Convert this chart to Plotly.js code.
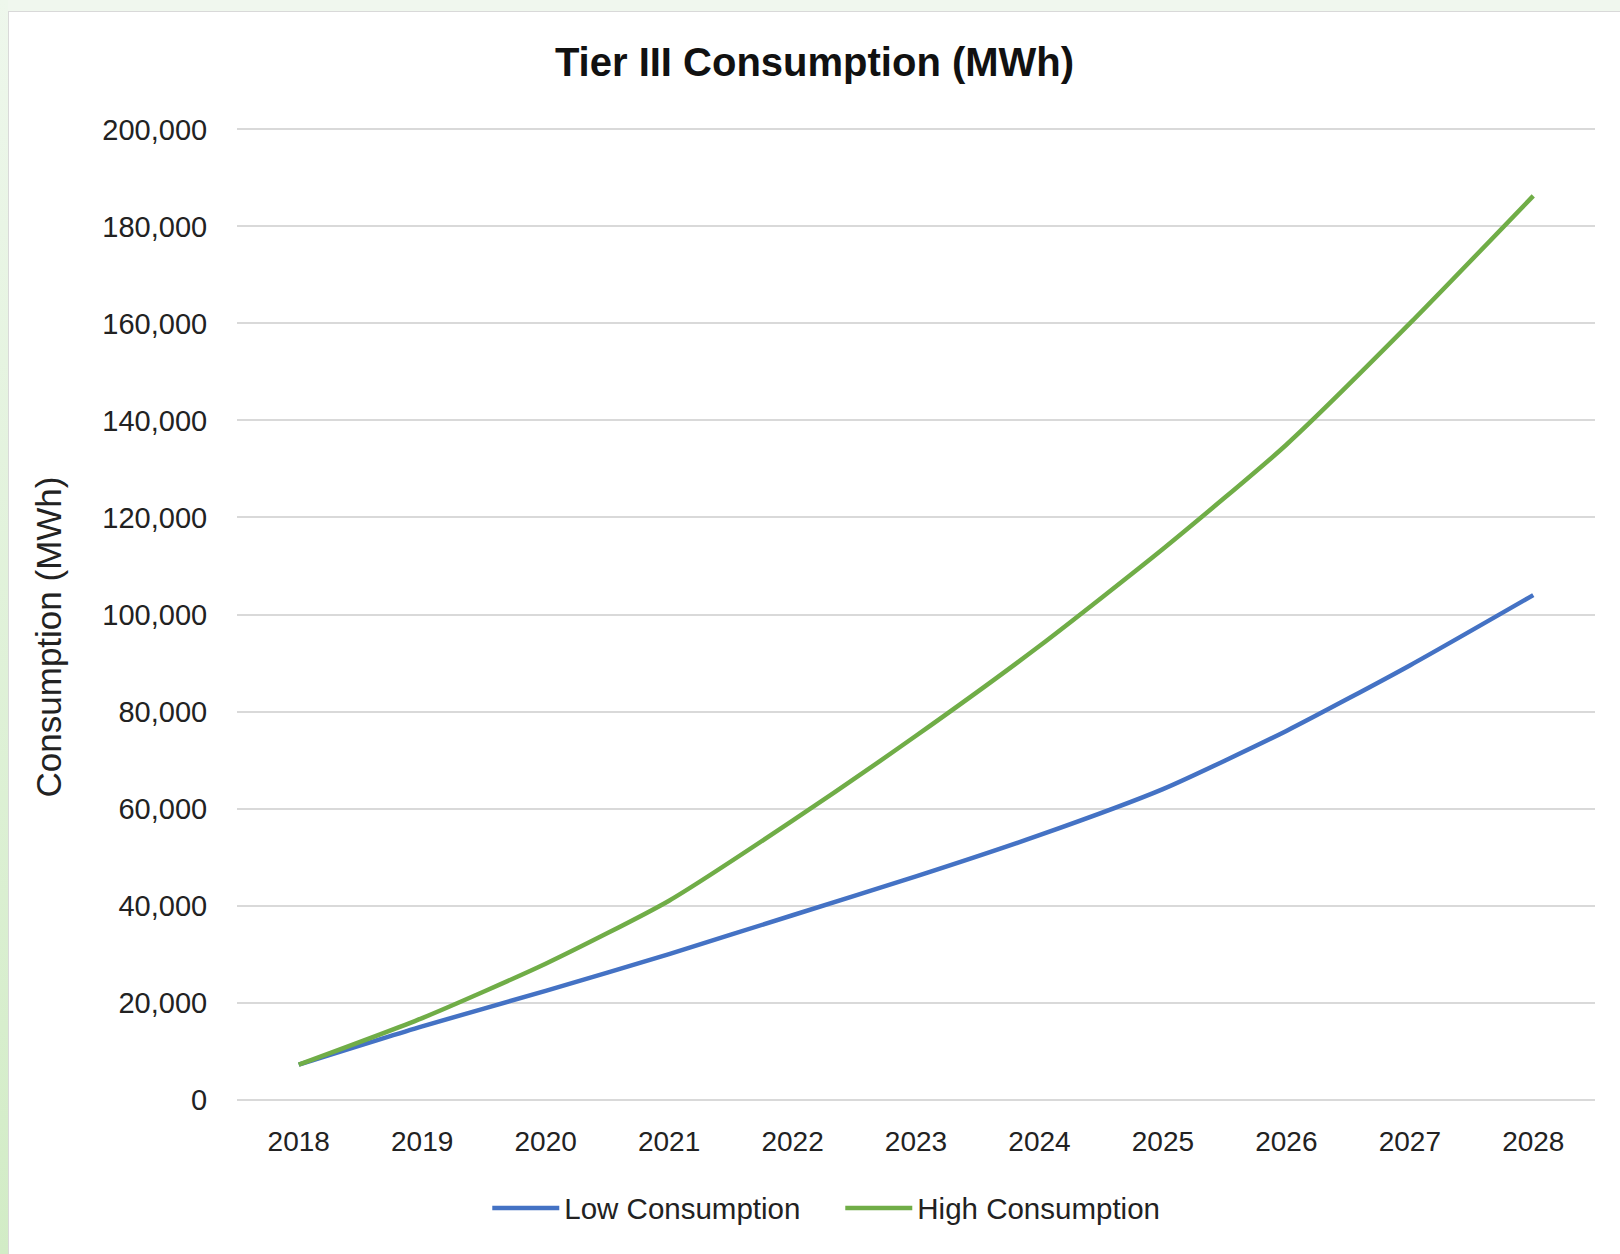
<!DOCTYPE html>
<html>
<head>
<meta charset="utf-8">
<script src="https://cdn.plot.ly/plotly-3.0.1.min.js"></script>
<style>
  html, body { margin: 0; padding: 0; width: 1620px; height: 1254px; overflow: hidden;
    background: #f0f7ee; }
  #leftstrip { position: absolute; left: 0; top: 0; width: 8px; height: 1254px;
    background: linear-gradient(#eef7ec, #d2ecc6); }
  #frame { position: absolute; left: 8px; top: 11px; width: 1612px; height: 1243px;
    background: #ffffff; border-left: 1px solid #d9d9d9; border-top: 1px solid #d9d9d9; box-sizing: border-box; }
  #chart { width: 1611px; height: 1242px; }
</style>
</head>
<body>
<div id="leftstrip"></div>
<div id="frame"><div id="chart"></div></div>
<script>
const years = ['2018','2019','2020','2021','2022','2023','2024','2025','2026','2027','2028'];
const lowConsumption  = [7200, 15100, 22400, 30000, 38000, 46000, 54500, 64000, 76000, 89500, 104000];
const highConsumption = [7200, 16800, 28000, 41000, 57500, 75000, 93500, 113500, 135000, 160000, 186300];
const yTicks = [0, 20000, 40000, 60000, 80000, 100000, 120000, 140000, 160000, 180000, 200000];
const yTickText = ['0','20,000','40,000','60,000','80,000','100,000','120,000','140,000','160,000','180,000','200,000'];

const FONT = 'Liberation Sans, Arial, sans-serif';

const traces = [
  { x: years, y: lowConsumption, type: 'scatter', mode: 'lines', name: 'Low Consumption',
    line: { color: '#4472C4', width: 4.5, shape: 'spline', smoothing: 0.6 } },
  { x: years, y: highConsumption, type: 'scatter', mode: 'lines', name: 'High Consumption',
    line: { color: '#70AD47', width: 4.5, shape: 'spline', smoothing: 0.6 } }
];

const layout = {
  width: 1611, height: 1242,
  paper_bgcolor: '#ffffff', plot_bgcolor: '#ffffff',
  margin: { l: 228, r: 25, t: 115, b: 152, autoexpand: false },
  title: { text: '<b>Tier III Consumption (MWh)</b>', x: 0.5, xanchor: 'center', y: 0.960, yanchor: 'middle',
    font: { family: FONT, size: 40, color: '#111111' } },
  xaxis: {
    type: 'category', range: [-0.5, 10.5], showgrid: false, zeroline: false,
    showline: false, ticks: 'outside', ticklen: 14, tickcolor: 'rgba(0,0,0,0)', tickangle: 0,
    tickfont: { family: FONT, size: 28, color: '#222222' }, fixedrange: true, automargin: false
  },
  yaxis: {
    range: [-500, 200500], tickvals: yTicks, ticktext: yTickText,
    showgrid: true, gridcolor: '#d9d9d9', gridwidth: 2, zeroline: false, showline: false,
    ticks: 'outside', ticklen: 23, tickcolor: 'rgba(0,0,0,0)',
    tickfont: { family: FONT, size: 29, color: '#222222' },
    automargin: false, fixedrange: true
  },
  annotations: [
    { text: 'Consumption (MWh)', xref: 'paper', yref: 'paper', x: -0.1388, y: 0.477,
      xanchor: 'center', yanchor: 'middle', textangle: -90, showarrow: false,
      font: { family: FONT, size: 35, color: '#222222' } }
  ],
  showlegend: true,
  legend: {
    orientation: 'h', x: 0.1843, xanchor: 'left', y: -0.109, yanchor: 'middle',
    font: { family: FONT, size: 29.5, color: '#222222' }, itemwidth: 67,
    entrywidth: 271, entrywidthmode: 'pixels', traceorder: 'normal'
  }
};

Plotly.newPlot('chart', traces, layout, { displayModeBar: false, staticPlot: true });
</script>
</body>
</html>
